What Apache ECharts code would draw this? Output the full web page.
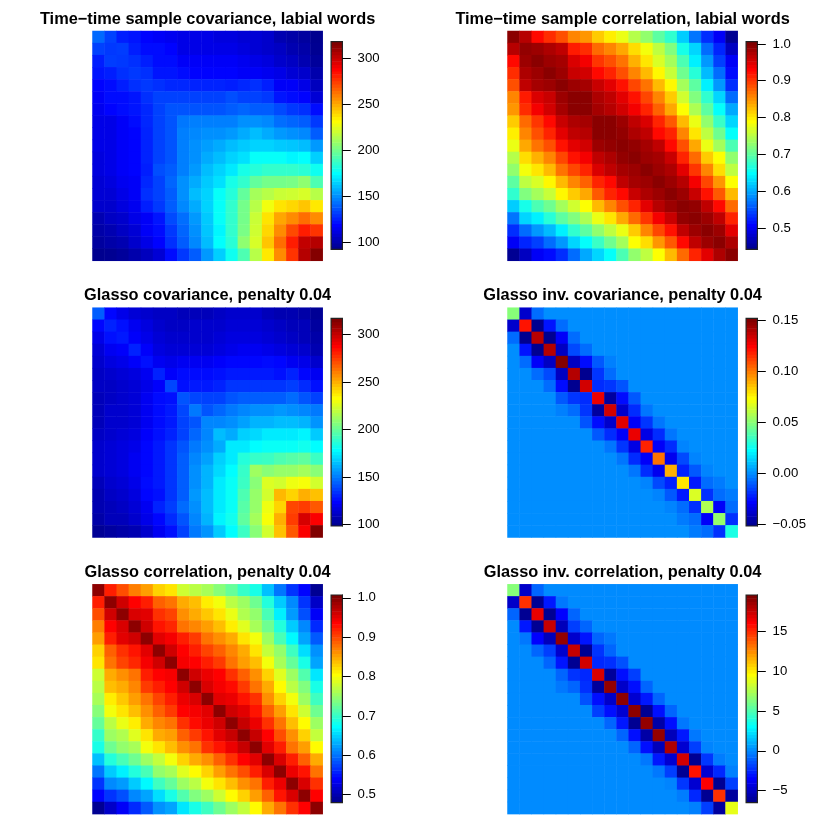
<!DOCTYPE html>
<html><head><meta charset="utf-8">
<style>html,body{margin:0;padding:0;background:#fff}#c{width:830px;height:830px}</style>
<script src="https://cdn.jsdelivr.net/npm/echarts@6/dist/echarts.min.js"></script>
</head><body><div id="c"></div>
<script>
// upper triangles, one row per time index (row i holds columns i..18)
const sampleCovRows = [
[141,132,124,122,118,116,114,112,112,112,110,110,108,108,106,100,98,96,92],
[130,131,124,120,120,118,112,112,112,112,112,110,108,106,104,100,98,93],
[130,128,124,120,120,116,116,116,116,116,114,112,110,106,104,100,95],
[130,128,122,122,120,118,118,118,118,116,116,114,112,108,106,99],
[130,128,126,126,125,125,125,124,126,128,124,116,116,112,103],
[132,132,132,132,132,132,135,132,132,130,122,120,118,108],
[136,136,136,136,136,138,140,138,138,134,130,128,120],
[144,146,146,146,146,150,150,148,142,140,138,130],
[148,150,150,152,156,160,156,152,150,148,138],
[153,156,160,163,165,165,163,162,160,152],
[160,165,168,176,176,176,173,175,164],
[170,180,183,186,186,186,184,178],
[186,197,201,201,202,207,192],
[212,216,220,221,223,216],
[229,238,241,245,237],
[252,258,265,258],
[273,283,278],
[303,306],
[317]];
const sampleCorRows = [
[1,.975,.93,.91,.89,.86,.85,.82,.80,.78,.75,.73,.70,.675,.62,.57,.53,.50,.444],
[.995,.99,.98,.97,.92,.91,.875,.86,.84,.81,.785,.755,.72,.66,.625,.565,.525,.47],
[1,.99,.985,.955,.94,.905,.89,.87,.835,.805,.77,.74,.69,.64,.59,.54,.50],
[1,.99,.965,.96,.93,.915,.89,.86,.83,.795,.76,.71,.67,.61,.565,.51],
[1,.99,.985,.965,.95,.925,.895,.87,.83,.795,.74,.70,.64,.59,.53],
[1,1,.98,.97,.95,.925,.895,.86,.82,.765,.72,.675,.625,.565],
[1,.985,.975,.96,.94,.915,.88,.84,.79,.745,.70,.65,.60],
[1,1,.99,.97,.955,.915,.885,.83,.78,.73,.68,.625],
[1,.995,.98,.97,.93,.915,.86,.805,.755,.71,.65],
[1,.995,.985,.97,.93,.89,.84,.78,.74,.69],
[1,.99,.985,.965,.915,.875,.82,.79,.73],
[1,.99,.98,.95,.905,.86,.81,.755],
[1,.99,.975,.94,.895,.85,.79],
[1,.99,.965,.925,.885,.83],
[1,.995,.97,.93,.875],
[1,.99,.97,.915],
[1,.99,.95],
[1,.98],
[1]];
const glassoCovRows = [
[143,124,118,114,112,110,110,108,108,108,110,112,112,112,108,106,106,104,100],
[130,126,120,116,112,110,110,112,112,112,114,114,114,112,110,108,108,102],
[128,122,118,114,112,112,112,112,114,116,116,116,114,112,110,108,104],
[130,122,116,114,114,114,114,116,118,120,120,118,116,114,112,106],
[126,120,118,120,120,120,122,124,124,124,125,124,120,118,112],
[130,122,125,125,125,126,128,128,128,128,126,130,124,120],
[138,126,128,128,130,134,134,134,134,134,136,132,126],
[141,138,137,137,141,143,143,143,143,146,141,137],
[149,141,145,149,152,154,154,156,154,152,149],
[152,152,154,158,162,162,164,164,162,155],
[164,160,168,170,174,174,174,176,167],
[174,174,178,180,180,180,182,178],
[186,190,191,195,197,199,191],
[213,208,211,211,214,208],
[226,224,230,232,224],
[249,243,251,247],
[274,276,270],
[298,290],
[317]];
const glassoCorRows = [
[1,.925,.90,.874,.857,.83,.82,.78,.77,.76,.743,.725,.70,.685,.64,.60,.565,.54,.482],
[1,.965,.94,.925,.89,.88,.85,.84,.815,.80,.77,.755,.73,.69,.645,.611,.565,.51],
[1,.96,.955,.915,.905,.865,.85,.835,.82,.795,.765,.75,.71,.665,.62,.58,.535],
[1,.965,.93,.92,.88,.87,.857,.84,.815,.79,.76,.73,.69,.645,.61,.56],
[1,.955,.945,.925,.91,.88,.865,.85,.82,.80,.755,.71,.67,.625,.585],
[1,.965,.94,.925,.905,.89,.87,.85,.82,.775,.75,.705,.655,.615],
[1,.945,.94,.925,.91,.88,.857,.84,.80,.76,.725,.685,.625],
[1,.965,.95,.94,.915,.89,.865,.83,.79,.755,.715,.66],
[1,.96,.945,.935,.91,.88,.85,.808,.77,.74,.685],
[1,.955,.95,.93,.915,.865,.83,.80,.755,.705],
[1,.965,.955,.93,.89,.857,.82,.78,.73],
[1,.97,.95,.915,.88,.84,.808,.755],
[1,.97,.94,.90,.865,.83,.775],
[1,.955,.925,.88,.857,.808],
[1,.96,.925,.89,.85],
[1,.95,.93,.88],
[1,.96,.915],
[1,.94],
[1]];
// inverse matrices: diagonal and off-diagonal bands, everything further out is zero
const invCovDiag = [.05,.122,.14,.141,.151,.141,.135,.13,.135,.132,.13,.119,.103,.09,.079,.067,.058,.053,.028];
const invCovOff1 = [-.039,-.051,-.051,-.041,-.041,-.051,-.020,-.048,-.039,-.030,-.034,-.030,-.032,-.022,-.024,-.019,-.030,-.019];
const invCovOff2 = [-.007,-.025,-.030,-.014,-.0265,-.018,-.018,-.0265,-.020,-.018,-.020,-.020,-.014,-.011,-.007,-.007,-.007];
const invCovOff3 = [0,-.007,-.007,-.007,-.011,-.007,-.012,-.011,-.005,-.005,-.005,-.002,-.002,-.002,-.004,-.004];
const invCovOff4 = [0,0,0,0,-.003,0,0,0,0,0,0,0,0,0,0];
const invCorDiag = [6.5,15,16.8,17.7,19,17.7,17.4,17.2,19,19.2,19.2,19,19,18.3,17.4,15.8,16.3,15,9];
const invCorOff1 = [-5,-6.4,-6.4,-5.4,-4.9,-6.4,-2.6,-6.2,-5,-4.8,-6.4,-5.9,-5.4,-4.8,-6.4,-4.8,-6.4,-6.1];
const invCorOff2 = [-1,-3,-3.6,-2,-3.1,-2.3,-2.4,-3.24,-3.24,-3,-3.24,-3.24,-3,-2,-2.2,-2.6,-2];
const invCorOff3 = [0,-.5,-1,-1,-1,-1,-1.5,-2,-1,-1,-1,-.5,-.5,-.2,-.4,-.3];
const invCorOff4 = [0,0,0,0,-.5,0,0,0,0,0,0,0,0,0,0];

const titles = ['Time\u2212time sample covariance, labial words','Time\u2212time sample correlation, labial words',
  'Glasso covariance, penalty 0.04','Glasso inv. covariance, penalty 0.04',
  'Glasso correlation, penalty 0.04','Glasso inv. correlation, penalty 0.04'];
const domains = [[92.4,318],[.442,1.006],[98.6,316.8],[-.0513,.1517],[.48,1.007],[-6.5,19.55]];
const ticks = [[100,150,200,250,300],[.5,.6,.7,.8,.9,1],[100,150,200,250,300],[-.05,0,.05,.1,.15],[.5,.6,.7,.8,.9,1],[-5,0,5,10,15]];
const decimals = [0,1,0,2,1,0];
const panelLeft = [92.5,507.5,92.5,507.5,92.5,507.5];
const panelTop = [31,31,307.7,307.7,584.3,584.3];

function jetPalette(){
  const c=[],cl=v=>Math.round(255*Math.max(0,Math.min(1,v)));
  for(let k=0;k<64;k++){
    const x=(k+1)/64;
    const r=cl(Math.min(4*x-1.5,-4*x+4.5)),g=cl(Math.min(4*x-.5,-4*x+3.5)),b=cl(Math.min(4*x+.5,-4*x+2.5));
    c.push('rgb('+r+','+g+','+b+')');
  }
  return c;
}
const jet = jetPalette();
const N = 19;
function fromUpper(rows){
  const d=[];
  rows.forEach((row,i)=>row.forEach((v,k)=>{const j=i+k;d.push([j,i,v]);if(j!==i)d.push([i,j,v]);}));
  return d;
}
function fromBands(bands){
  const m=[];for(let i=0;i<N;i++){m.push(new Array(N).fill(0));}
  bands.forEach((b,o)=>b.forEach((v,i)=>{m[i][i+o]=v;m[i+o][i]=v;}));
  const d=[];m.forEach((r,i)=>r.forEach((v,j)=>d.push([j,i,v])));
  return d;
}
const matrices = [fromUpper(sampleCovRows),fromUpper(sampleCorRows),fromUpper(glassoCovRows),
  fromBands([invCovDiag,invCovOff1,invCovOff2,invCovOff3,invCovOff4]),
  fromUpper(glassoCorRows),fromBands([invCorDiag,invCorOff1,invCorOff2,invCorOff3,invCorOff4])];
const cats = Array.from({length:N},(_,i)=>String(i));
const opt = {animation:false,backgroundColor:'#fff',title:[],grid:[],xAxis:[],yAxis:[],visualMap:[],series:[]};
const font='"Liberation Sans", Arial, sans-serif';
titles.forEach((t,p)=>{
  const L=panelLeft[p],T=panelTop[p],dom=domains[p];
  opt.title.push({text:t,left:L+115.1,top:T-20,padding:0,textAlign:'center',
    textStyle:{fontFamily:font,fontWeight:'bold',fontSize:16.35,color:'#000',lineHeight:16}});
  opt.grid.push({left:L,top:T,width:230.2,height:229.8,show:false,containLabel:false});
  opt.grid.push({left:L+238.6,top:T+10.7,width:11.3,height:207.6,show:true,z:5,backgroundColor:'transparent',borderColor:'#222',borderWidth:1.2});
  const gi=p*2;
  opt.xAxis.push({gridIndex:gi,type:'category',data:cats,show:false});
  opt.yAxis.push({gridIndex:gi,type:'category',data:cats,inverse:true,show:false});
  opt.xAxis.push({gridIndex:gi+1,type:'value',min:0,max:1,show:false});
  opt.yAxis.push({gridIndex:gi+1,type:'value',position:'right',min:dom[0],max:dom[1],z:6,
    splitLine:{show:false},axisLine:{show:true,onZero:false,lineStyle:{color:'#222',width:1}},
    axisTick:{show:true,inside:false,length:8.4,customValues:ticks[p],lineStyle:{color:'#000',width:1}},
    axisLabel:{show:true,margin:15.2,color:'#000',fontFamily:font,fontSize:13.2,customValues:ticks[p],
      formatter:v=>Number(v).toFixed(decimals[p]).replace('-','\u2212')}});
  opt.visualMap.push({show:false,type:'continuous',seriesIndex:gi,dimension:2,min:dom[0],max:dom[1],inRange:{color:jet}});
  opt.series.push({type:'heatmap',xAxisIndex:gi,yAxisIndex:gi,data:matrices[p],progressive:0,itemStyle:{borderWidth:0},emphasis:{disabled:true}});
  const step=(dom[1]-dom[0])/64;
  opt.series.push({type:'custom',xAxisIndex:gi+1,yAxisIndex:gi+1,z:2,clip:true,silent:true,
    data:jet.map((c,k)=>[dom[0]+k*step,dom[0]+(k+1)*step,k]),
    encode:{y:[0,1]},
    renderItem:(params,api)=>{
      const a=api.coord([0,api.value(0)]),b=api.coord([1,api.value(1)]);
      return {type:'rect',shape:{x:a[0],y:b[1],width:b[0]-a[0],height:a[1]-b[1]+.6},style:{fill:jet[api.value(2)]}};
    }});
});
echarts.init(document.getElementById('c'),null,{renderer:'canvas'}).setOption(opt);
</script></body></html>
